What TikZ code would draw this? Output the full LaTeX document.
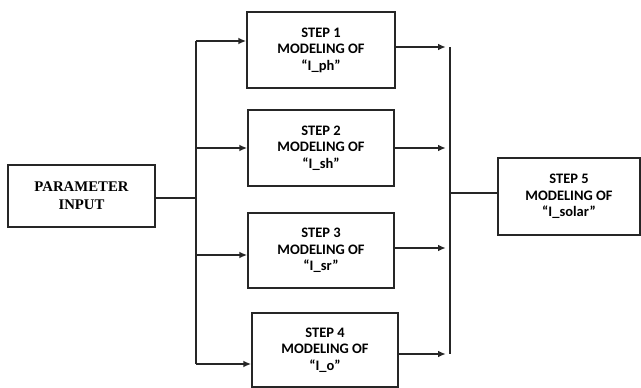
\documentclass[tikz,border=0pt]{standalone}
\usepackage{fontspec}
\setmainfont{Carlito}
\newfontfamily\paramfont{Liberation Serif}
\usepackage{xcolor}
\usetikzlibrary{arrows.meta, positioning}

\begin{document}
\begin{tikzpicture}[
x=0.025cm, y=-0.025cm,
every node/.style={font=\bfseries\fontsize{10.3}{11.7}\selectfont},
boxnode/.style={rectangle, draw=black!85, line width=1.2pt,
minimum width=3.65cm, minimum height=1.9cm,
align=center, inner sep=2pt},
paramnode/.style={boxnode, minimum width=3.675cm, minimum height=1.55cm,
font=\paramfont\bfseries\fontsize{10.5}{13}\selectfont},
wire/.style={line width=1.1pt, black!85},
arrownode/.style={wire, -{Latex[length=5.5pt, width=4.8pt]}}
]
\useasboundingbox (0,0) rectangle (641,388);

\node[paramnode] (param) at (81.5,196) {PARAMETER\\INPUT};
\node[boxnode, minimum width=3.7cm] (step1) at (321,50) {STEP 1\\MODELING OF\\“I\_ph”};
\node[boxnode] (step2) at (321,148) {STEP 2\\MODELING OF\\“I\_sh”};
\node[boxnode, minimum height=1.875cm] (step3) at (321,250.5) {STEP 3\\MODELING OF\\“I\_sr”};
\node[boxnode, minimum height=1.85cm] (step4) at (325,350) {STEP 4\\MODELING OF\\“I\_o”};
\node[boxnode, minimum width=3.55cm, minimum height=1.925cm] (step5) at (569,196.5) {STEP 5\\MODELING OF\\“I\_solar”};

% split bus on the left
\coordinate (splitL) at (196,198);
\coordinate (busLtop) at (196,41);
\coordinate (busL3) at (196,255);
\coordinate (busLbot) at (196,364);
% join bus on the right
\coordinate (joinR) at (450,193);
\coordinate (busRtop) at (450,47);
\coordinate (busR3) at (450,248);
\coordinate (busRbot) at (450,354);

\draw[wire] (param.east |- splitL) -- (splitL);
\draw[wire] (busLtop) -- (busLbot);
\draw[arrownode] (busLtop) -- (busLtop -| step1.west);
\draw[arrownode] (step2.west -| splitL) -- (step2.west);
\draw[arrownode] (busL3) -- (busL3 -| step3.west);
\draw[arrownode] (busLbot) -- (busLbot -| step4.west);

\draw[arrownode, shorten >=3pt] (step1.east |- busRtop) -- (busRtop);
\draw[arrownode, shorten >=3pt] (step2.east) -- (step2.east -| joinR);
\draw[arrownode, shorten >=3pt] (step3.east |- busR3) -- (busR3);
\draw[arrownode, shorten >=3pt] (step4.east |- busRbot) -- (busRbot);
\draw[wire] (busRtop) -- (busRbot);
\draw[wire] (joinR) -- (joinR -| step5.west);

\end{tikzpicture}
\end{document}
